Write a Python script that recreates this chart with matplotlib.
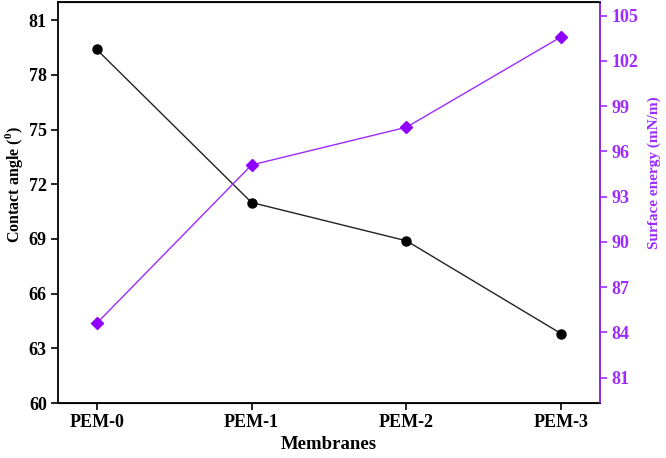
import matplotlib

matplotlib.use("Agg")
import matplotlib.pyplot as plt

membranes = ["PEM-0", "PEM-1", "PEM-2", "PEM-3"]
contact_angle = [79.4, 71.0, 68.9, 63.8]
surface_energy = [84.6, 95.1, 97.6, 103.6]
angle_ticks = [60, 63, 66, 69, 72, 75, 78, 81]
energy_ticks = [81, 84, 87, 90, 93, 96, 99, 102, 105]

PURPLE = "#9d2bff"
MARK = "#8f00ff"
plt.rcParams.update({"font.family": "Liberation Serif", "font.weight": "bold",
                     "mathtext.fontset": "custom", "mathtext.bf": "Liberation Serif:bold",
                     "mathtext.rm": "Liberation Serif"})

fig = plt.figure(figsize=(6.66, 4.58), dpi=100)
ax = fig.add_axes([0.087, 0.12, 0.814, 0.8756])
x = list(range(len(membranes)))

ax.plot(x, contact_angle, color="#222222", lw=1.0, marker="o", ms=6.5,
        mfc="black", mec="black")
ax.set_xlim(-0.25, 3.25)
ax.set_ylim(60, 82)
ax.set_yticks(angle_ticks)
ax.set_xticks(x)
ax.set_xticklabels(membranes)
ax.set_ylabel(r"Contact angle ($^{\mathbf{0}}$)", fontsize=11.5, fontweight="bold")
ax.set_xlabel("Membranes", fontsize=13.5, fontweight="bold")
ax.tick_params(axis="both", direction="out", length=5, width=1.2, labelsize=13, pad=3)
ax.yaxis.set_label_coords(-0.06, 0.545)
ax.xaxis.set_label_coords(0.5, -0.083)
for s in ax.spines.values():
    s.set_linewidth(1.3)

ax2 = ax.twinx()
ax2.plot(x, surface_energy, color=PURPLE, lw=1.0, marker="D", ms=6.5,
         mfc=MARK, mec=MARK)
ax2.set_ylim(79.32, 105.9)
ax2.set_yticks(energy_ticks)
ax2.set_ylabel("Surface energy (mN/m)", color=PURPLE, fontsize=11, fontweight="bold")
ax2.yaxis.set_label_coords(1.088, 0.575)
ax2.tick_params(axis="y", direction="out", length=5, width=1.2, labelsize=13, pad=3,
                colors=PURPLE)
ax2.spines["right"].set_color(PURPLE)
ax2.spines["right"].set_linewidth(1.3)
ax2.spines["left"].set_visible(False)

fig.savefig("out.png", dpi=100)
